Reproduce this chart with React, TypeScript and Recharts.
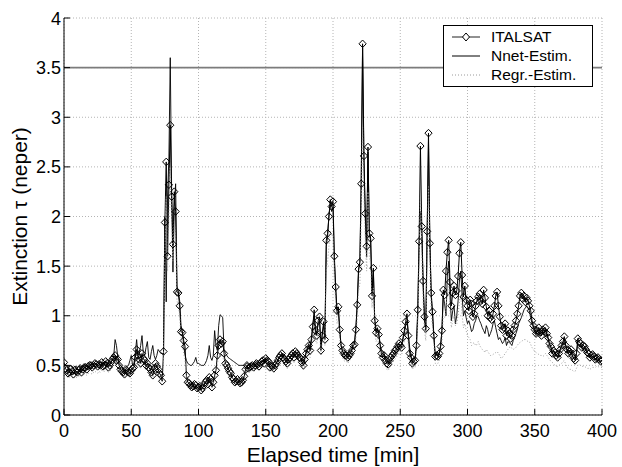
import React from 'react';
import { LineChart, Line, XAxis, YAxis, CartesianGrid, ReferenceLine, Legend } from 'recharts';

const FONT = '"Liberation Sans", Arial, Helvetica, sans-serif';

// Elapsed time [min] — main samples
const time = [
  0, 2, 4, 6, 8, 10, 12, 14, 16, 18, 20, 22, 24, 26, 28, 30, 32, 34, 36, 38, 40, 42, 44, 46, 48, 50, 52, 54, 56, 58, 60, 62, 64, 66, 68, 70, 72,
  73, 74, 75, 76, 77, 78, 79, 80, 81, 82, 83, 84, 85, 86, 87, 88, 89, 90, 91, 92,
  94, 96, 98, 100, 102, 104, 106, 108, 110, 112, 114, 116, 118, 120, 122, 124, 126, 128, 130, 132, 134, 136, 138, 140, 142, 144, 146, 148, 150, 152, 154, 156, 158, 160, 162, 164, 166, 168, 170, 172, 174, 176, 178, 180, 182,
  183, 184, 185, 186, 187, 188, 189, 190, 191, 192, 193, 194, 195, 196, 197, 198, 199, 200, 201, 202, 203, 204, 205, 206, 207, 208, 209, 210, 211, 212, 213, 214, 215, 216, 217, 218, 219, 220, 221, 222, 223, 224, 225, 226, 227, 228, 229, 230, 231, 232, 233, 234, 235, 236,
  238, 240, 242, 244, 246, 248, 250, 252, 254, 256, 258, 260,
  261, 262, 263, 264, 265, 266, 267, 268, 269, 270, 271, 272, 273, 274, 275, 276, 277, 278, 279, 280, 281, 282, 283, 284, 285, 286, 287, 288, 289, 290, 291, 292, 293, 294, 295, 296, 297, 298, 299, 300,
  302, 304, 306, 308, 310, 312, 314, 316, 318, 320, 322, 324, 326, 328, 330, 332, 334, 336, 338, 340, 342, 344, 346, 348, 350, 352, 354, 356, 358, 360, 362, 364, 366, 368, 370, 372, 374, 376, 378, 380, 382, 384, 386, 388, 390, 392, 394, 396, 398, 400,
];

const italsat = [
  0.53, 0.45, 0.43, 0.44, 0.45, 0.43, 0.47, 0.46, 0.48, 0.49,
  0.50, 0.50, 0.51, 0.51, 0.53, 0.50, 0.52, 0.50, 0.56, 0.60,
  0.56, 0.46, 0.43, 0.46, 0.43, 0.45, 0.48, 0.66, 0.56, 0.62,
  0.55, 0.52, 0.46, 0.40, 0.52, 0.46, 0.40,
  0.34, 0.64, 1.94, 2.55, 1.60, 2.32, 2.92, 2.20, 1.72, 2.25, 2.05, 1.24, 1.23, 1.10, 0.84, 0.83, 0.75, 0.69, 0.40, 0.33,
  0.30, 0.29, 0.30, 0.28, 0.25, 0.30, 0.35, 0.38, 0.28, 0.40,
  0.60, 0.76, 0.74, 0.52, 0.47, 0.42, 0.36, 0.34, 0.34, 0.33,
  0.39, 0.50, 0.48, 0.50, 0.50, 0.51, 0.52, 0.55, 0.57, 0.54,
  0.50, 0.47, 0.52, 0.58, 0.62, 0.56, 0.52, 0.58, 0.62, 0.64,
  0.60, 0.57, 0.50, 0.62, 0.70,
  0.65, 0.76, 0.89, 1.06, 0.85, 0.80, 0.95, 0.99, 0.65, 0.80,
  0.94, 0.76, 1.76, 1.83, 2.00, 2.17, 2.10, 2.15, 1.60, 1.29,
  1.05, 1.09, 0.86, 0.70, 0.65, 0.62, 0.60, 0.60, 0.58, 0.60,
  0.62, 0.65, 0.70, 0.71, 0.86, 1.11, 1.47, 1.54, 2.33, 3.74,
  2.61, 2.03, 1.70, 2.70, 1.83, 1.78, 1.20, 1.48, 0.95, 0.83,
  0.87, 0.81, 0.70, 0.62,
  0.60, 0.52, 0.55, 0.60, 0.65, 0.69, 0.70, 0.78, 0.94, 0.80, 0.58, 0.54,
  0.55, 0.70, 1.06, 1.75, 2.71, 1.90, 1.35, 0.99, 0.87, 1.85,
  2.84, 1.73, 1.23, 1.04, 0.80, 0.59, 0.60, 0.59, 0.62, 0.69,
  0.85, 1.26, 1.21, 1.45, 1.64, 1.76, 1.34, 1.10, 1.23, 1.30,
  1.21, 1.25, 1.40, 1.63, 1.74, 1.41, 1.19, 1.30, 1.16, 1.10,
  1.16, 0.99, 1.10, 1.19, 1.15, 1.26, 1.09, 1.05, 0.96, 1.10,
  1.24, 0.99, 0.86, 0.92, 0.85, 0.77, 0.86, 0.95, 1.10, 1.23,
  1.20, 1.18, 1.10, 0.95, 0.86, 0.85, 0.83, 0.86, 0.88, 0.78,
  0.69, 0.65, 0.60, 0.62, 0.70, 0.79, 0.66, 0.64, 0.60, 0.55,
  0.77, 0.72, 0.70, 0.66, 0.62, 0.60, 0.59, 0.57, 0.56, 0.55,
];

const nnet = [
  0.50, 0.50, 0.49, 0.49, 0.49, 0.48, 0.49, 0.48, 0.49, 0.50,
  0.51, 0.51, 0.52, 0.52, 0.53, 0.52, 0.53, 0.52, 0.55, 0.76,
  0.58, 0.50, 0.47, 0.48, 0.50, 0.60, 0.52, 0.76, 0.62, 0.80,
  0.60, 0.74, 0.56, 0.70, 0.56, 0.66, 0.62,
  0.62, 0.62, 2.00, 1.14, 2.20, 2.60, 3.60, 2.30, 1.44, 2.10, 2.33, 1.30, 1.25, 1.15, 0.90, 0.85, 0.70, 0.60, 0.55, 0.52,
  0.50, 0.52, 0.58, 0.52, 0.50, 0.50, 0.55, 0.70, 0.55, 0.85,
  0.65, 1.01, 0.98, 0.62, 0.58, 0.56, 0.54, 0.52, 0.50, 0.50,
  0.50, 0.52, 0.50, 0.51, 0.51, 0.52, 0.53, 0.55, 0.57, 0.55,
  0.52, 0.50, 0.53, 0.58, 0.62, 0.58, 0.55, 0.58, 0.62, 0.64,
  0.62, 0.58, 0.54, 0.64, 0.72,
  0.68, 0.78, 0.92, 1.00, 0.82, 0.85, 0.92, 0.95, 0.70, 0.82,
  0.90, 0.80, 1.70, 1.80, 2.02, 2.12, 2.05, 2.10, 1.55, 1.25,
  1.02, 1.05, 0.84, 0.70, 0.64, 0.62, 0.60, 0.61, 0.60, 0.62,
  0.64, 0.67, 0.72, 0.74, 0.88, 1.10, 1.45, 1.55, 2.40, 3.70,
  2.55, 2.00, 1.59, 2.65, 1.85, 1.75, 1.25, 1.45, 0.98, 0.85,
  0.88, 0.83, 0.72, 0.65,
  0.62, 0.55, 0.52, 0.58, 0.62, 0.66, 0.70, 0.76, 0.90, 0.82, 0.60, 0.56,
  0.57, 0.68, 1.00, 1.70, 2.05, 1.85, 1.30, 0.95, 0.85, 1.80,
  2.75, 1.80, 1.20, 1.00, 0.78, 0.60, 0.62, 0.60, 0.63, 0.70,
  0.85, 1.20, 1.12, 1.00, 1.40, 1.55, 1.20, 0.95, 1.05, 1.10,
  0.92, 1.00, 1.15, 1.35, 1.45, 1.20, 1.00, 1.05, 0.98, 0.92,
  0.90, 0.86, 0.95, 0.99, 0.92, 0.85, 0.90, 0.79, 0.86, 0.95,
  0.82, 0.78, 0.72, 0.78, 0.74, 0.72, 0.75, 0.82, 0.92, 0.98,
  1.06, 1.10, 1.05, 0.92, 0.84, 0.82, 0.80, 0.84, 0.85, 0.76,
  0.68, 0.64, 0.60, 0.62, 0.70, 0.76, 0.65, 0.63, 0.59, 0.56,
  0.72, 0.70, 0.68, 0.65, 0.61, 0.59, 0.58, 0.56, 0.55, 0.55,
];

const regr = [
  0.40, 0.39, 0.38, 0.38, 0.39, 0.38, 0.40, 0.40, 0.41, 0.42,
  0.42, 0.43, 0.43, 0.44, 0.45, 0.44, 0.45, 0.44, 0.48, 0.52,
  0.48, 0.42, 0.39, 0.41, 0.40, 0.42, 0.44, 0.55, 0.50, 0.54,
  0.50, 0.47, 0.43, 0.38, 0.45, 0.42, 0.37,
  0.36, 0.50, 1.60, 2.20, 1.45, 2.00, 2.50, 1.95, 1.55, 1.95, 1.80, 1.15, 1.10, 1.00, 0.78, 0.74, 0.62, 0.55, 0.36, 0.30,
  0.28, 0.27, 0.28, 0.26, 0.24, 0.28, 0.32, 0.34, 0.27, 0.36,
  0.52, 0.62, 0.60, 0.45, 0.42, 0.38, 0.33, 0.31, 0.31, 0.31,
  0.35, 0.44, 0.43, 0.45, 0.45, 0.46, 0.47, 0.49, 0.50, 0.48,
  0.45, 0.43, 0.47, 0.52, 0.55, 0.50, 0.47, 0.52, 0.55, 0.57,
  0.54, 0.51, 0.46, 0.55, 0.62,
  0.58, 0.66, 0.78, 0.90, 0.75, 0.72, 0.82, 0.85, 0.60, 0.72,
  0.82, 0.70, 1.45, 1.55, 1.70, 1.85, 1.80, 1.82, 1.40, 1.12,
  0.92, 0.95, 0.76, 0.62, 0.58, 0.55, 0.54, 0.54, 0.52, 0.54,
  0.56, 0.58, 0.62, 0.64, 0.76, 0.96, 1.25, 1.32, 2.00, 2.90,
  2.20, 1.75, 1.45, 2.25, 1.60, 1.52, 1.08, 1.28, 0.85, 0.74,
  0.77, 0.72, 0.63, 0.56,
  0.52, 0.46, 0.47, 0.52, 0.56, 0.60, 0.61, 0.68, 0.80, 0.70, 0.52, 0.48,
  0.48, 0.60, 0.90, 1.45, 2.20, 1.60, 1.15, 0.85, 0.75, 1.50,
  2.30, 1.50, 1.05, 0.88, 0.70, 0.52, 0.52, 0.52, 0.55, 0.60,
  0.72, 1.00, 0.98, 1.05, 1.25, 1.35, 1.05, 0.88, 0.95, 1.00,
  0.90, 0.92, 1.00, 1.15, 1.20, 1.00, 0.88, 0.92, 0.85, 0.80,
  0.76, 0.72, 0.70, 0.74, 0.68, 0.65, 0.66, 0.62, 0.60, 0.62,
  0.64, 0.60, 0.58, 0.62, 0.66, 0.69, 0.66, 0.68, 0.72, 0.74,
  0.76, 0.75, 0.74, 0.68, 0.64, 0.62, 0.60, 0.59, 0.62, 0.58,
  0.54, 0.52, 0.49, 0.50, 0.52, 0.55, 0.48, 0.46, 0.45, 0.44,
  0.50, 0.50, 0.49, 0.48, 0.47, 0.47, 0.48, 0.49, 0.48, 0.48,
];

// Additional samples at the odd minutes of the quieter stretches
const timeOdd = [
  1, 3, 5, 7, 9, 11, 13, 15, 17, 19, 21, 23, 25, 27, 29, 31, 33, 35, 37, 39, 41, 43, 45, 47, 49, 51, 53, 55, 57, 59, 61, 63, 65, 67, 69, 71,
  93, 95, 97, 99, 101, 103, 105, 107, 109, 111, 113, 115, 117, 119, 121, 123, 125, 127, 129, 131, 133, 135, 137, 139, 141, 143, 145, 147, 149, 151, 153, 155, 157, 159, 161, 163, 165, 167, 169, 171, 173, 175, 177, 179, 181,
  237, 239, 241, 243, 245, 247, 249, 251, 253, 255, 257, 259,
  301, 303, 305, 307, 309, 311, 313, 315, 317, 319, 321, 323, 325, 327, 329, 331, 333, 335, 337, 339, 341, 343, 345, 347, 349, 351, 353, 355, 357, 359, 361, 363, 365, 367, 369, 371, 373, 375, 377, 379, 381, 383, 385, 387, 389, 391, 393, 395, 397, 399,
];

const italsatOdd = [
  0.47, 0.42, 0.46, 0.41, 0.44, 0.45, 0.43, 0.48, 0.46, 0.50, 0.48, 0.52, 0.49, 0.50, 0.49, 0.54, 0.48, 0.53, 0.58, 0.55, 0.50, 0.44, 0.41, 0.44, 0.42, 0.47, 0.58, 0.60, 0.52, 0.57, 0.50, 0.48, 0.43, 0.47, 0.49, 0.42,
  0.32, 0.28, 0.31, 0.27, 0.29, 0.27, 0.33, 0.31, 0.36, 0.33, 0.45, 0.70, 0.72, 0.62, 0.50, 0.44, 0.38, 0.33, 0.36, 0.32, 0.35, 0.46, 0.47, 0.49, 0.48, 0.52, 0.49, 0.54, 0.52, 0.55, 0.48, 0.49, 0.50, 0.55, 0.60, 0.58, 0.54, 0.56, 0.60, 0.58, 0.62, 0.58, 0.53, 0.56, 0.66,
  0.58, 0.55, 0.51, 0.58, 0.62, 0.66, 0.72, 0.68, 0.85, 1.02, 0.62, 0.52,
  1.05, 1.12, 1.02, 1.15, 1.22, 1.12, 1.18, 1.00, 0.98, 1.02, 1.20, 1.10, 0.90, 0.88, 0.80, 0.82, 0.80, 0.90, 1.02, 1.20, 1.17, 1.14, 1.15, 1.05, 0.90, 0.82, 0.88, 0.80, 0.84, 0.82, 0.72, 0.62, 0.63, 0.58, 0.66, 0.74, 0.70, 0.62, 0.66, 0.57, 0.62, 0.74, 0.68, 0.69, 0.63, 0.58, 0.61, 0.56, 0.58, 0.54,
];

const nnetOdd = [
  0.50, 0.49, 0.50, 0.48, 0.49, 0.49, 0.48, 0.50, 0.49, 0.51, 0.50, 0.52, 0.51, 0.53, 0.52, 0.54, 0.51, 0.54, 0.60, 0.70, 0.52, 0.49, 0.47, 0.49, 0.55, 0.50, 0.62, 0.60, 0.70, 0.62, 0.68, 0.58, 0.64, 0.60, 0.60, 0.64,
  0.51, 0.50, 0.54, 0.52, 0.51, 0.50, 0.52, 0.60, 0.58, 0.60, 0.70, 0.90, 1.00, 0.66, 0.60, 0.57, 0.55, 0.53, 0.51, 0.50, 0.50, 0.51, 0.51, 0.50, 0.52, 0.51, 0.53, 0.54, 0.56, 0.56, 0.53, 0.51, 0.51, 0.56, 0.60, 0.60, 0.56, 0.56, 0.60, 0.63, 0.63, 0.60, 0.56, 0.58, 0.68,
  0.63, 0.58, 0.53, 0.55, 0.60, 0.64, 0.68, 0.72, 0.82, 0.95, 0.68, 0.55,
  0.95, 0.84, 0.92, 1.00, 0.95, 0.88, 0.82, 0.86, 0.82, 0.92, 0.88, 0.76, 0.75, 0.74, 0.70, 0.73, 0.70, 0.78, 0.86, 0.95, 1.02, 1.08, 1.08, 0.98, 0.88, 0.80, 0.84, 0.80, 0.82, 0.80, 0.70, 0.62, 0.62, 0.58, 0.66, 0.72, 0.70, 0.62, 0.63, 0.57, 0.62, 0.71, 0.67, 0.67, 0.62, 0.58, 0.59, 0.56, 0.56, 0.54,
];

const regrOdd = [
  0.39, 0.38, 0.39, 0.37, 0.38, 0.39, 0.39, 0.41, 0.40, 0.42, 0.41, 0.44, 0.42, 0.43, 0.44, 0.46, 0.43, 0.46, 0.50, 0.49, 0.45, 0.40, 0.38, 0.40, 0.39, 0.43, 0.50, 0.52, 0.47, 0.51, 0.46, 0.45, 0.40, 0.42, 0.44, 0.39,
  0.30, 0.27, 0.28, 0.26, 0.26, 0.25, 0.30, 0.30, 0.33, 0.30, 0.42, 0.58, 0.61, 0.52, 0.44, 0.40, 0.35, 0.31, 0.32, 0.30, 0.33, 0.40, 0.43, 0.44, 0.44, 0.46, 0.45, 0.48, 0.48, 0.50, 0.45, 0.44, 0.45, 0.49, 0.53, 0.52, 0.49, 0.50, 0.53, 0.53, 0.56, 0.52, 0.48, 0.50, 0.58,
  0.52, 0.49, 0.45, 0.50, 0.54, 0.58, 0.62, 0.60, 0.74, 0.86, 0.56, 0.46,
  0.78, 0.70, 0.73, 0.71, 0.70, 0.66, 0.63, 0.64, 0.60, 0.61, 0.63, 0.62, 0.57, 0.60, 0.64, 0.68, 0.67, 0.67, 0.70, 0.73, 0.75, 0.76, 0.74, 0.71, 0.66, 0.63, 0.61, 0.60, 0.60, 0.60, 0.56, 0.53, 0.50, 0.49, 0.51, 0.54, 0.51, 0.47, 0.46, 0.44, 0.47, 0.51, 0.49, 0.49, 0.47, 0.46, 0.48, 0.48, 0.49, 0.48,
];

const xTicks = [0, 50, 100, 150, 200, 250, 300, 350, 400];
const yTicks = [0, 0.5, 1, 1.5, 2, 2.5, 3, 3.5, 4];
const threshold = 3.5;

const data = [
  ...time.map((t, i) => ({ t, italsat: italsat[i], nnet: nnet[i], regr: regr[i] })),
  ...timeOdd.map((t, i) => ({ t, italsat: italsatOdd[i], nnet: nnetOdd[i], regr: regrOdd[i] })),
].sort((a, b) => a.t - b.t);

const TICK_LEN = 6;

const BottomTick = (p: any) => (
  <g>
    <line x1={p.x} y1={p.y} x2={p.x} y2={p.y - TICK_LEN} stroke="#000" strokeWidth={1} />
    <text x={p.x} y={p.y + 22} textAnchor="middle" fontSize={18} fontFamily={FONT} fill="#000">
      {String(p.payload.value)}
    </text>
  </g>
);

const LeftTick = (p: any) => (
  <g>
    <line x1={p.x} y1={p.y} x2={p.x + TICK_LEN} y2={p.y} stroke="#000" strokeWidth={1} />
    <text x={p.x - 3} y={p.y + 6.5} textAnchor="end" fontSize={18} fontFamily={FONT} fill="#000">
      {String(p.payload.value)}
    </text>
  </g>
);

const TopTick = (p: any) => (
  <line x1={p.x} y1={p.y} x2={p.x} y2={p.y + TICK_LEN} stroke="#000" strokeWidth={1} />
);

const RightTick = (p: any) => (
  <line x1={p.x} y1={p.y} x2={p.x - TICK_LEN} y2={p.y} stroke="#000" strokeWidth={1} />
);

const Diamond = (props: any) => {
  const { cx, cy, index } = props;
  if (cx == null || cy == null) return <g key={`d-${index}`} />;
  return (
    <polygon
      key={`d-${index}`}
      points={`${cx},${cy - 3.8} ${cx + 3.6},${cy} ${cx},${cy + 3.8} ${cx - 3.6},${cy}`}
      fill="none"
      stroke="#000"
      strokeWidth={1}
    />
  );
};

const legendItems = [
  { label: 'ITALSAT', stroke: '#222', dash: undefined as string | undefined, marker: true },
  { label: 'Nnet-Estim.', stroke: '#000', dash: undefined as string | undefined, marker: false },
  { label: 'Regr.-Estim.', stroke: '#9a9a9a', dash: '1 2', marker: false },
];

const LegendBox = () => (
  <div
    style={{
      boxSizing: 'border-box',
      width: 150,
      height: 62,
      border: '1.3px solid #000',
      background: '#fff',
      paddingTop: 2,
      fontFamily: FONT,
      fontSize: 15.5,
      color: '#000',
    }}
  >
    {legendItems.map((it) => (
      <div key={it.label} style={{ display: 'flex', alignItems: 'center', height: 18.7 }}>
        <svg width={28} height={12} style={{ marginLeft: 8, flex: 'none' }}>
          <line x1={0} y1={6} x2={28} y2={6} stroke={it.stroke} strokeWidth={1} strokeDasharray={it.dash} />
          {it.marker && <polygon points="14,2 17.5,6 14,10 10.5,6" fill="#fff" stroke="#000" strokeWidth={1} />}
        </svg>
        <span style={{ marginLeft: 11, whiteSpace: 'nowrap', lineHeight: '18px' }}>{it.label}</span>
      </div>
    ))}
  </div>
);

const YLabel = (props: any) => {
  const vb = props.viewBox || { x: 0, y: 18, width: 64, height: 397 };
  const cy = vb.y + vb.height / 2;
  return (
    <text
      transform={`translate(27, ${cy}) rotate(-90)`}
      textAnchor="middle"
      fontSize={21}
      fontFamily={FONT}
      fill="#000"
    >
      Extinction τ (neper)
    </text>
  );
};

const XLabel = (props: any) => {
  const vb = props.viewBox || { x: 64, y: 415, width: 538, height: 52 };
  return (
    <text x={vb.x + vb.width / 2} y={462} textAnchor="middle" fontSize={21} fontFamily={FONT} fill="#000">
      Elapsed time [min]
    </text>
  );
};

export default function App() {
  return (
    <div style={{ position: 'absolute', left: 0, top: 0, background: '#fff' }}>
      <LineChart width={622} height={467} data={data} margin={{ top: 18, right: 20, bottom: 0, left: 0 }}>
        <CartesianGrid stroke="#b4b4b4" strokeDasharray="1 2" horizontalValues={yTicks} verticalValues={xTicks} />
        <XAxis
          dataKey="t"
          type="number"
          domain={[0, 400]}
          ticks={xTicks}
          interval={0}
          allowDataOverflow
          height={52}
          tickSize={0}
          tickMargin={0}
          tickLine={false}
          tick={BottomTick}
          axisLine={{ stroke: '#000', strokeWidth: 1 }}
          label={<XLabel />}
        />
        <XAxis
          xAxisId="top"
          orientation="top"
          dataKey="t"
          type="number"
          domain={[0, 400]}
          ticks={xTicks}
          interval={0}
          allowDataOverflow
          height={0}
          tickSize={0}
          tickMargin={0}
          tickLine={false}
          tick={TopTick}
          axisLine={{ stroke: '#000', strokeWidth: 1 }}
        />
        <YAxis
          type="number"
          domain={[0, 4]}
          ticks={yTicks}
          interval={0}
          allowDataOverflow
          width={64}
          tickSize={0}
          tickMargin={0}
          tickLine={false}
          tick={LeftTick}
          axisLine={{ stroke: '#000', strokeWidth: 1 }}
          label={<YLabel />}
        />
        <YAxis
          yAxisId="right"
          orientation="right"
          type="number"
          domain={[0, 4]}
          ticks={yTicks}
          interval={0}
          allowDataOverflow
          width={0}
          tickSize={0}
          tickMargin={0}
          tickLine={false}
          tick={RightTick}
          axisLine={{ stroke: '#000', strokeWidth: 1 }}
        />
        <ReferenceLine y={threshold} stroke="#7c7c7c" strokeWidth={1.7} />
        <Line
          dataKey="italsat"
          type="linear"
          stroke="#000"
          strokeWidth={1}
          dot={Diamond}
          activeDot={false}
          isAnimationActive={false}
        />
        <Line dataKey="nnet" type="linear" stroke="#000" strokeWidth={0.9} dot={false} activeDot={false} isAnimationActive={false} />
        <Line
          dataKey="regr"
          type="linear"
          stroke="#a0a0a0"
          strokeWidth={1}
          strokeDasharray="1 2"
          dot={false}
          activeDot={false}
          isAnimationActive={false}
        />
        <Legend
          layout="vertical"
          align="center"
          verticalAlign="middle"
          wrapperStyle={{ position: 'absolute', left: 443, top: 25, width: 150, height: 62 }}
          content={() => <LegendBox />}
        />
      </LineChart>
    </div>
  );
}
